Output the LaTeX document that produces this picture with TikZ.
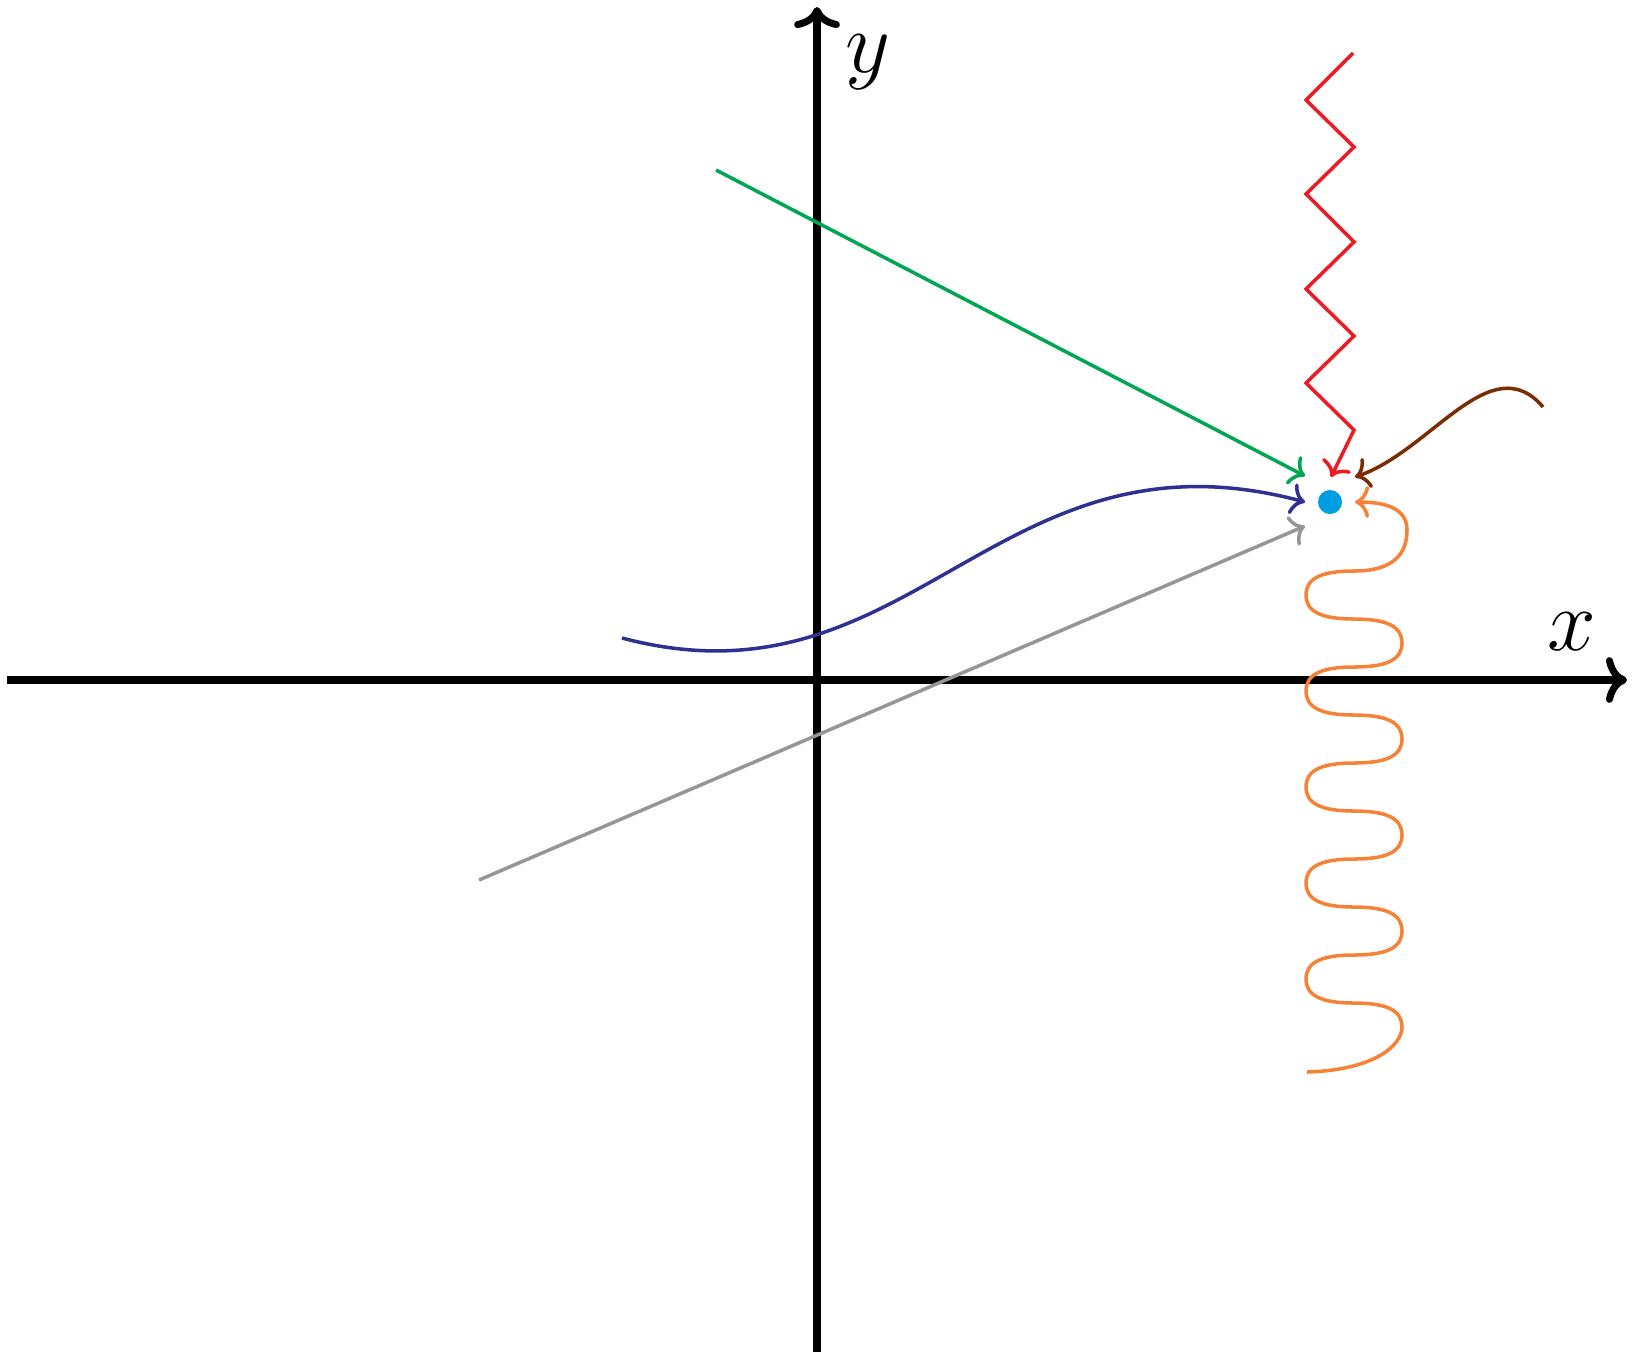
\documentclass[tikz,border=0pt]{standalone}
\usetikzlibrary{arrows.meta}
\definecolor{cgreen}{RGB}{0,166,81}
\definecolor{cred}{RGB}{237,28,36}
\definecolor{cbrown}{RGB}{122,45,5}
\definecolor{cblue}{RGB}{46,49,146}
\definecolor{corange}{RGB}{245,130,55}
\definecolor{cgray}{RGB}{150,150,150}
\definecolor{ccyan}{RGB}{0,158,224}
\tikzset{
  axis/.style={line width=2pt,-{Computer Modern Rightarrow[length=6pt,width=13pt]}},
  ray/.style={line width=1pt,-{Computer Modern Rightarrow[length=4pt,width=9pt]}},
  dot/.style={circle,fill=ccyan,minimum size=0.24cm,inner sep=0pt},
  lab/.style={inner sep=0pt,font=\fontsize{26}{30}\selectfont}
}
\begin{document}
\begin{tikzpicture}[x=0.01cm,y=-0.01cm]
\path[use as bounding box] (0,0) rectangle (1634,1360);
% axes
\coordinate (xL) at (7,680);
\coordinate (xR) at (1627,680);
\coordinate (yB) at (817,1352);
\coordinate (yT) at (817,7);
\draw[axis] (xL) -- (xR);
\draw[axis] (yB) -- (yT);
\node[lab] (ylab) at (868,62) {$y$};
\node[lab] (xlab) at (1572,632) {$x$};
% target point
\node[dot] (P) at (1330,502) {};
\coordinate (gEnd) at (1305,476);
\coordinate (rEnd) at (1331,477);
\coordinate (brEnd) at (1355,477);
\coordinate (blEnd) at (1305,502);
\coordinate (oEnd) at (1355,502);
\coordinate (grEnd) at (1305,526);
% starts
\coordinate (gStart) at (716,170);
\coordinate (rStart) at (1353,53);
\coordinate (brStart) at (1543,407);
\coordinate (blStart) at (622,638);
\coordinate (grStart) at (479,880);
\coordinate (oStart) at (1307,1072);
% green
\draw[ray,cgreen] (gStart) -- (gEnd);
% gray
\draw[ray,cgray] (grStart) -- (grEnd);
% red zigzag
\draw[ray,cred,line join=miter] (rStart) -- (1306,100) -- (1354,147) -- (1306,194) -- (1354,242)
  -- (1306,289) -- (1354,336) -- (1306,383) -- (1354,430) -- (rEnd);
% brown
\draw[ray,cbrown] (brStart) .. controls (1491,346) and (1431,451) .. (brEnd);
% blue
\draw[ray,cblue] (blStart) .. controls (912,715) and (996,419) .. (blEnd);
% orange snake
\draw[ray,corange] (oStart)
  .. controls (1375,1070) and (1402,1045) .. (1402,1027)
  .. controls (1402,1011) and (1388,1003) .. (1354,1003)
  .. controls (1320,1003) and (1306,995) .. (1306,979)
  .. controls (1306,963) and (1320,955) .. (1354,955)
  .. controls (1388,955) and (1402,947) .. (1402,931)
  .. controls (1402,915) and (1388,907) .. (1354,907)
  .. controls (1320,907) and (1306,899) .. (1306,883)
  .. controls (1306,867) and (1320,859) .. (1354,859)
  .. controls (1388,859) and (1402,851) .. (1402,835)
  .. controls (1402,819) and (1388,811) .. (1354,811)
  .. controls (1320,811) and (1306,803) .. (1306,787)
  .. controls (1306,771) and (1320,763) .. (1354,763)
  .. controls (1388,763) and (1402,755) .. (1402,739)
  .. controls (1402,723) and (1388,715) .. (1354,715)
  .. controls (1320,715) and (1306,707) .. (1306,691)
  .. controls (1306,675) and (1320,667) .. (1354,667)
  .. controls (1388,667) and (1402,659) .. (1402,643)
  .. controls (1402,627) and (1388,619) .. (1354,619)
  .. controls (1320,619) and (1306,611) .. (1306,595)
  .. controls (1306,579) and (1320,571) .. (1354,571)
  .. controls (1392,571) and (1407,555) .. (1407,530)
  .. controls (1407,508) and (1385,502) .. (oEnd);
\end{tikzpicture}
\end{document}
